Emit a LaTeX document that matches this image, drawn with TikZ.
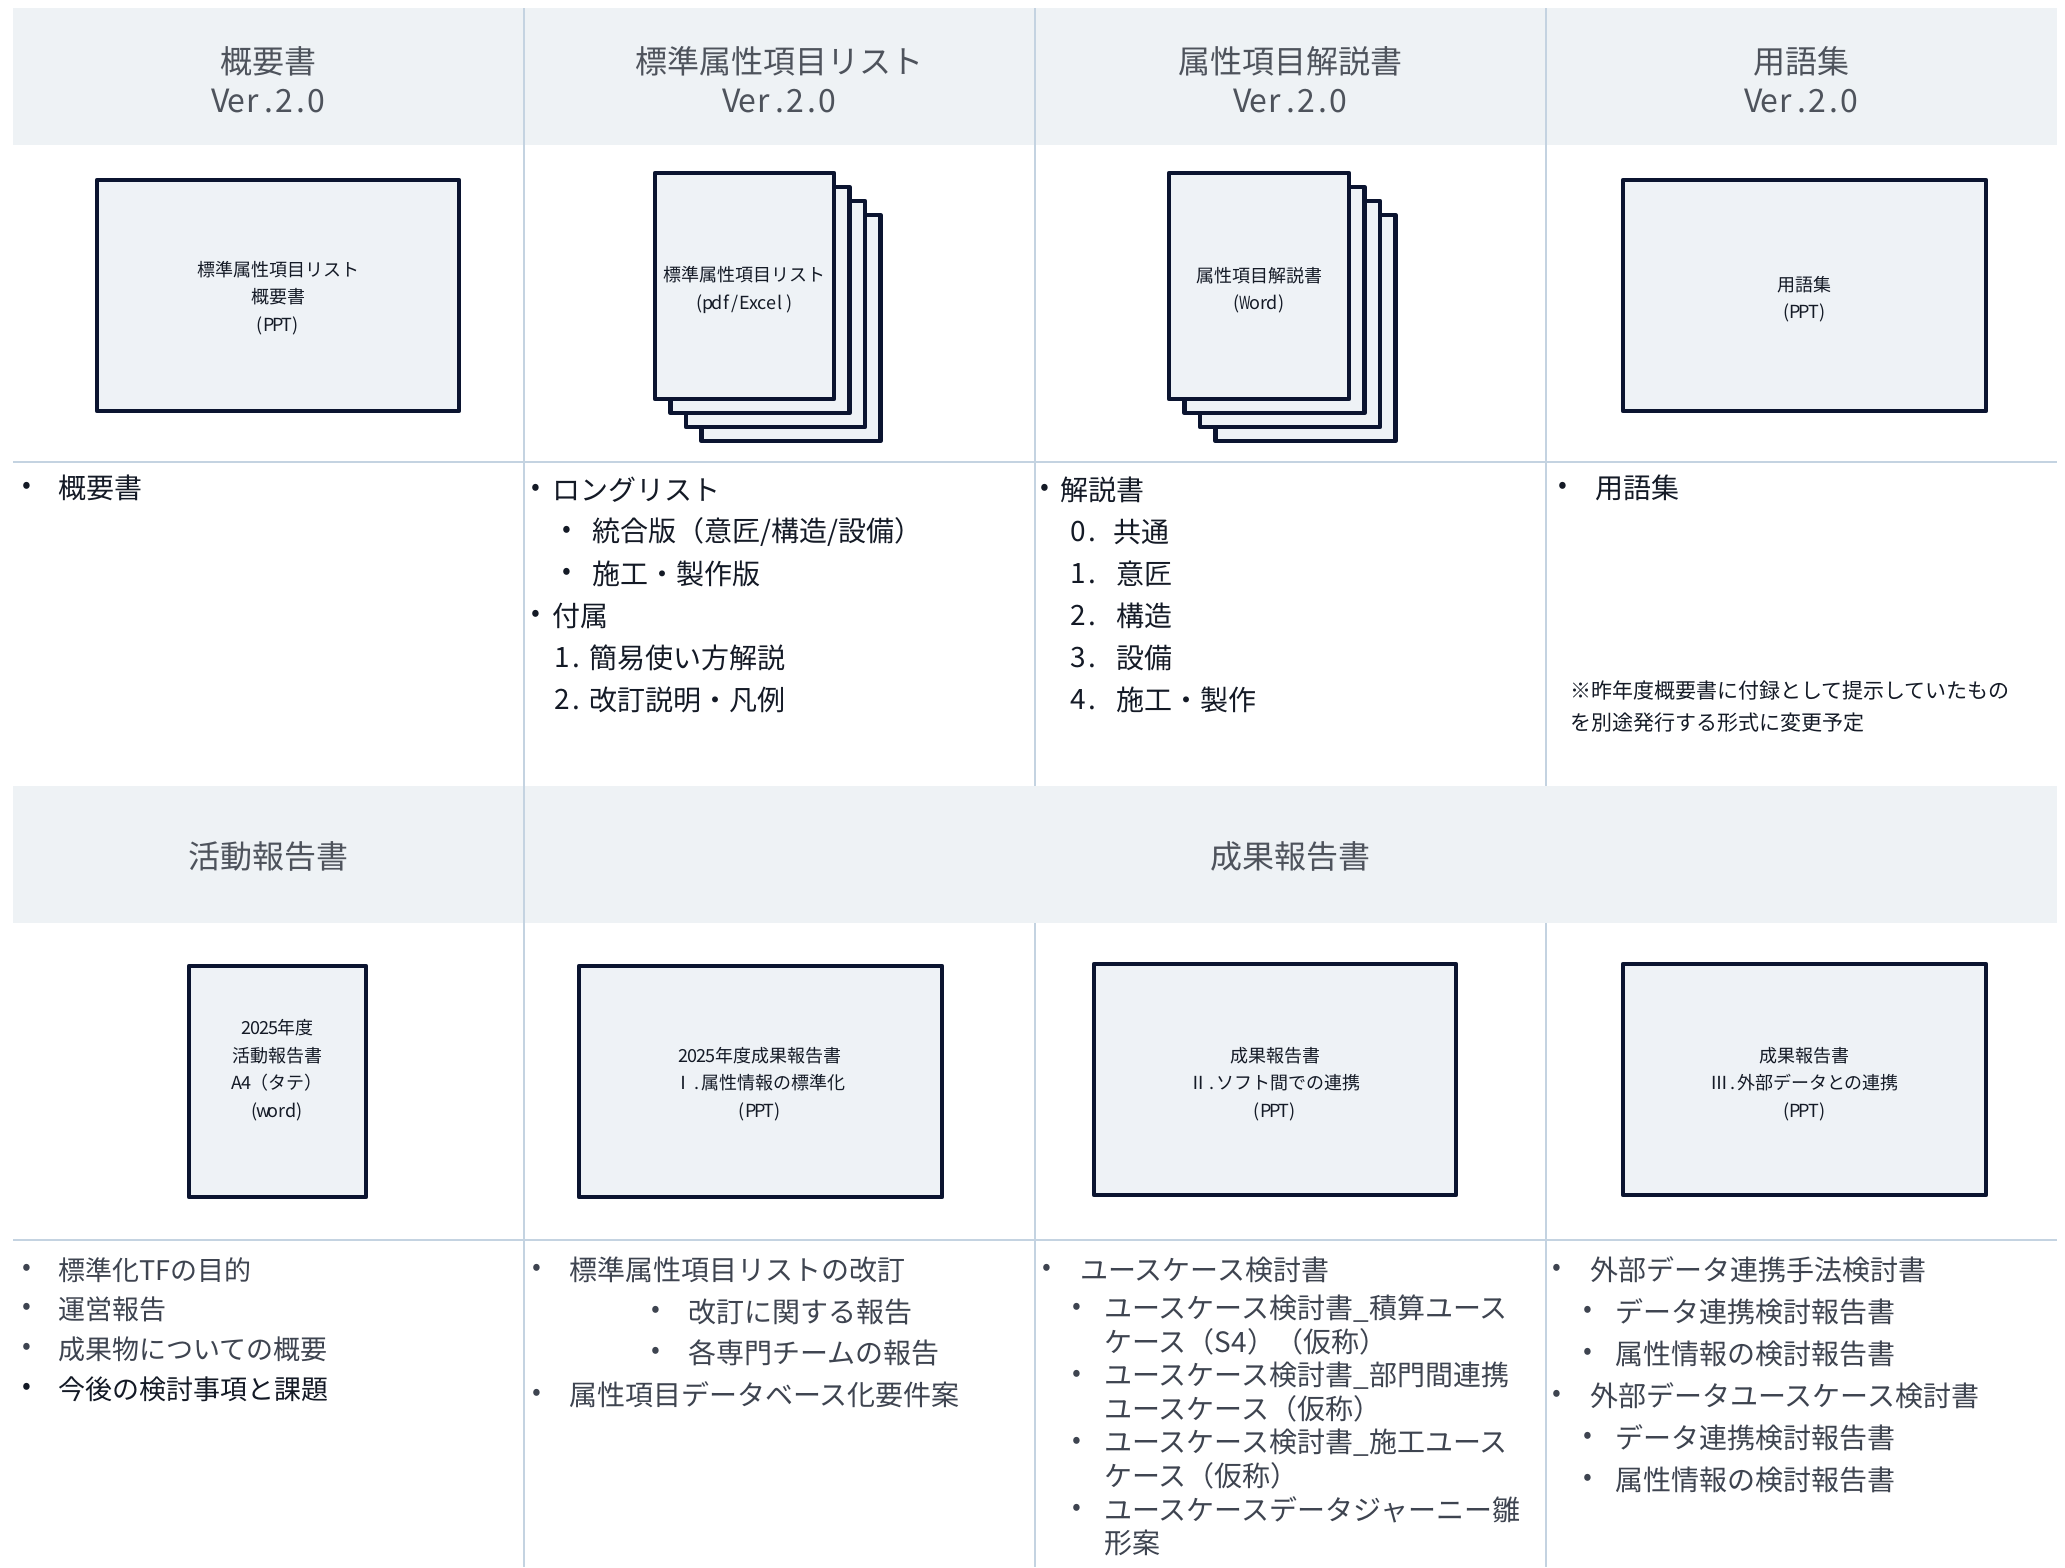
\documentclass[tikz,border=0pt]{standalone}
\usepackage{fontspec}
\setmainfont{Noto Sans CJK JP}
\definecolor{hdrfill}{HTML}{EEF2F5}
\definecolor{gridc}{HTML}{C4D3E1}
\definecolor{navy}{HTML}{0B1430}
\definecolor{docfill}{HTML}{EEF2F6}
\definecolor{hdrtxt}{HTML}{4E535C}
\definecolor{ink}{HTML}{141A26}
\definecolor{graytxt}{HTML}{3E4450}
\makeatletter
\newcommand\hwc[1]{\hw@loop#1\@nil}
\def\hw@loop#1{\ifx#1\@nil\else\makebox[0.5em]{#1}\expandafter\hw@loop\fi}
\makeatother
\newcommand\narrowW{\makebox[0.5em]{\scalebox{0.72}[1]{W}}}
\tikzset{
  gridline/.style={draw=gridc, line width=2pt},
  hdrband/.style={fill=hdrfill},
  hdrlabel/.style={text=hdrtxt, align=center, inner sep=0pt, font=\fontsize{32}{39}\selectfont},
  docbox/.style={draw=navy, line width=4.5pt, fill=docfill, line join=round},
  doclabel/.style={text=ink, align=center, inner sep=0pt, font=\fontsize{18}{27.5}\selectfont},
  bul/.style={text=ink, inner sep=0pt, anchor=center, font=\fontsize{26}{30}\selectfont},
  bulgray/.style={bul, text=graytxt},
  itemtxt/.style={text=ink, inner sep=0pt, anchor=west, font=\fontsize{28}{34}\selectfont},
  itemgray/.style={itemtxt, text=graytxt},
  itemsmall/.style={itemgray, font=\fontsize{27}{32}\selectfont},
  notetxt/.style={text=ink, inner sep=0pt, anchor=west, font=\fontsize{21}{26}\selectfont},
}
\begin{document}
\begin{tikzpicture}[x=1pt,y=-1pt]
\useasboundingbox (0,0) rectangle (2065,1567);
\fill[white] (0,0) rectangle (2065,1567);
% header bands
\path[hdrband] (13,8) rectangle (2057,145);
\path[hdrband] (13,786) rectangle (2057,923);
% grid lines
\draw[gridline] (524,8) -- (524,1567);
\draw[gridline] (1035,8) -- (1035,786);
\draw[gridline] (1546,8) -- (1546,786);
\draw[gridline] (1035,923) -- (1035,1567);
\draw[gridline] (1546,923) -- (1546,1567);
\draw[gridline] (13,462) -- (2057,462);
\draw[gridline] (13,1240) -- (2057,1240);
% header texts
\node[hdrlabel] (h1) at (268.5,80) {概要書\\\hwc{Ver.2.0}};
\node[hdrlabel] (h2) at (779.5,80) {標準属性項目リスト\\\hwc{Ver.2.0}};
\node[hdrlabel] (h3) at (1290.5,80) {属性項目解説書\\\hwc{Ver.2.0}};
\node[hdrlabel] (h4) at (1801.5,80) {用語集\\\hwc{Ver.2.0}};
\node[hdrlabel] (h5) at (268.5,856) {活動報告書};
\node[hdrlabel] (h6) at (1290.5,856) {成果報告書};
% row 1 documents
\draw[docbox] (97,180) rectangle (459,411);
\node[doclabel] (d1) at (278,298) {標準属性項目リスト\\概要書\\\hwc{(PPT)}};
\foreach \k in {3,2,1} {
  \draw[docbox] ({655+15.5*\k},{173+14*\k}) rectangle ({834+15.5*\k},{399+14*\k});
  \draw[docbox] ({1169+15.5*\k},{173+14*\k}) rectangle ({1349+15.5*\k},{399+14*\k});
}
\draw[docbox] (655,173) rectangle (834,399);
\draw[docbox] (1169,173) rectangle (1349,399);
\node[doclabel] (d2) at (744.5,290) {標準属性項目リスト\\\hwc{(pdf/Excel)}};
\node[doclabel] (d3) at (1259,290) {属性項目解説書\\\hwc{(}\narrowW\hwc{ord)}};
\draw[docbox] (1623,180) rectangle (1986,411);
\node[doclabel] (d4) at (1804.5,299) {用語集\\\hwc{(PPT)}};
% row 2 documents
\draw[docbox] (189,966) rectangle (366,1197);
\node[doclabel] (e1) at (277.5,1070) {\hwc{2025}年度\\活動報告書\\\hwc{A4}（タテ）\\\hwc{(word)}};
\draw[docbox] (579,966) rectangle (942,1197);
\node[doclabel] (e2) at (760,1084) {\hwc{2025}年度成果報告書\\Ⅰ\hwc{.}属性情報の標準化\\\hwc{(PPT)}};
\draw[docbox] (1094,964) rectangle (1456,1195);
\node[doclabel] (e3) at (1275,1084) {成果報告書\\Ⅱ\hwc{.}ソフト間での連携\\\hwc{(PPT)}};
\draw[docbox] (1623,964) rectangle (1986,1195);
\node[doclabel] (e4) at (1804.5,1084) {成果報告書\\Ⅲ\hwc{.}外部データとの連携\\\hwc{(PPT)}};
% row 1 lists
\node[bul] (b11) at (27,488) {•};
\node[itemtxt] (t11) at (58,488) {概要書};
\node[bul] (b21) at (536,490) {•};
\node[itemtxt] (t21) at (552,490) {ロングリスト};
\node[bul] (b22) at (567,532) {•};
\node[itemtxt] (t22) at (592,532) {統合版（意匠/構造/設備）};
\node[bul] (b23) at (567,574) {•};
\node[itemtxt] (t23) at (592,574) {施工・製作版};
\node[bul] (b24) at (536,616) {•};
\node[itemtxt] (t24) at (552,616) {付属};
\node[itemtxt] (n25) at (555,658) {\hwc{1.}};
\node[itemtxt] (t25) at (589,658) {簡易使い方解説};
\node[itemtxt] (n26) at (555,700) {\hwc{2.}};
\node[itemtxt] (t26) at (589,700) {改訂説明・凡例};
\node[bul] (b31) at (1045,490) {•};
\node[itemtxt] (t31) at (1060,490) {解説書};
\node[itemtxt] (n32) at (1071,532) {\hwc{0.}};
\node[itemtxt] (t32) at (1113,532) {共通};
\node[itemtxt] (n33) at (1071,574) {\hwc{1.}};
\node[itemtxt] (t33) at (1116,574) {意匠};
\node[itemtxt] (n34) at (1071,616) {\hwc{2.}};
\node[itemtxt] (t34) at (1116,616) {構造};
\node[itemtxt] (n35) at (1071,658) {\hwc{3.}};
\node[itemtxt] (t35) at (1116,658) {設備};
\node[itemtxt] (n36) at (1071,700) {\hwc{4.}};
\node[itemtxt] (t36) at (1116,700) {施工・製作};
\node[bul] (b41) at (1563,488) {•};
\node[itemtxt] (t41) at (1595,488) {用語集};
\node[notetxt] (note1) at (1570,690) {※昨年度概要書に付録として提示していたもの};
\node[notetxt] (note2) at (1570,723) {を別途発行する形式に変更予定};
% row 2 lists
\node[bulgray] (c11) at (27,1270) {•};
\node[itemsmall] (u11) at (58,1270) {標準化TFの目的};
\node[bulgray] (c12) at (27,1309) {•};
\node[itemsmall] (u12) at (58,1309) {運営報告};
\node[bulgray] (c13) at (27,1349) {•};
\node[itemsmall] (u13) at (58,1349) {成果物についての概要};
\node[bul] (c14) at (27,1389) {•};
\node[itemsmall, text=ink] (u14) at (58,1389) {今後の検討事項と課題};
\node[bulgray] (c21) at (537,1270) {•};
\node[itemgray] (u21) at (569,1270) {標準属性項目リストの改訂};
\node[bulgray] (c22) at (656,1312) {•};
\node[itemgray] (u22) at (688,1312) {改訂に関する報告};
\node[bulgray] (c23) at (656,1353) {•};
\node[itemgray] (u23) at (688,1353) {各専門チームの報告};
\node[bulgray] (c24) at (537,1395) {•};
\node[itemgray] (u24) at (569,1395) {属性項目データベース化要件案};
\node[bulgray] (c31) at (1047,1270) {•};
\node[itemgray] (u31) at (1080,1270) {ユースケース検討書};
\node[bulgray] (c32) at (1077,1309) {•};
\node[itemgray] (u32) at (1104,1309) {ユースケース検討書\_積算ユース};
\node[itemgray] (u32b) at (1104,1342) {ケース（S4）（仮称）};
\node[bulgray] (c33) at (1077,1376) {•};
\node[itemgray] (u33) at (1104,1376) {ユースケース検討書\_部門間連携};
\node[itemgray] (u33b) at (1104,1409) {ユースケース（仮称）};
\node[bulgray] (c34) at (1077,1443) {•};
\node[itemgray] (u34) at (1104,1443) {ユースケース検討書\_施工ユース};
\node[itemgray] (u34b) at (1104,1476) {ケース（仮称）};
\node[bulgray] (c35) at (1077,1510) {•};
\node[itemgray] (u35) at (1104,1510) {ユースケースデータジャーニー雛};
\node[itemgray] (u35b) at (1104,1543) {形案};
\node[bulgray] (c41) at (1557,1270) {•};
\node[itemgray] (u41) at (1590,1270) {外部データ連携手法検討書};
\node[bulgray] (c42) at (1588,1312) {•};
\node[itemgray] (u42) at (1615,1312) {データ連携検討報告書};
\node[bulgray] (c43) at (1588,1354) {•};
\node[itemgray] (u43) at (1615,1354) {属性情報の検討報告書};
\node[bulgray] (c44) at (1557,1396) {•};
\node[itemgray] (u44) at (1590,1396) {外部データユースケース検討書};
\node[bulgray] (c45) at (1588,1438) {•};
\node[itemgray] (u45) at (1615,1438) {データ連携検討報告書};
\node[bulgray] (c46) at (1588,1480) {•};
\node[itemgray] (u46) at (1615,1480) {属性情報の検討報告書};
\end{tikzpicture}
\end{document}
